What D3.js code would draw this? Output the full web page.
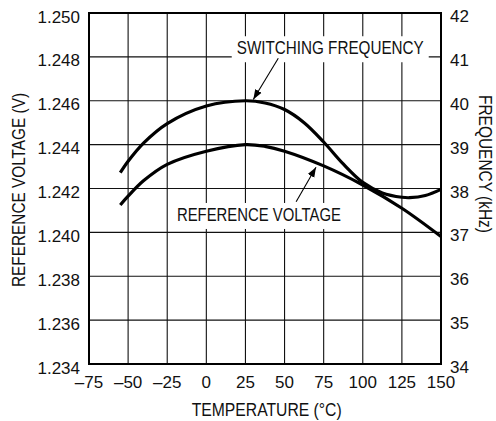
<!DOCTYPE html>
<html lang="en">
<head>
  <meta charset="UTF-8">
  <title>Reference voltage and switching frequency vs temperature</title>
  <script src="https://d3js.org/d3.v7.min.js"></script>
  <style>
    body { margin: 0; background: #fff; }
    svg { display: block; font-family: 'Liberation Sans', Arial, Helvetica, sans-serif; }
    .tick-label { font-size: 17px; fill: #111; }
    .title { font-size: 19px; fill: #111; }
  </style>
</head>
<body>
<div id="chart"></div>
<script>
  // x axis ticks (temperature, degC)
  var tempTicks = [-75, -50, -25, 0, 25, 50, 75, 100, 125, 150];
  // left axis ticks (reference voltage, V)
  var voltTicks = [1.234, 1.236, 1.238, 1.240, 1.242, 1.244, 1.246, 1.248, 1.250];
  // right axis ticks (frequency, kHz)
  var freqTicks = [34, 35, 36, 37, 38, 39, 40, 41, 42];

  // switching frequency curve
  var freqTemp = [-55, -50, -40, -25, 0, 25, 37.5, 50, 62.5, 75, 87.5, 100, 112.5, 125, 130, 140, 150];
  var freqVal  = [38.36, 38.62, 39.04, 39.48, 39.88, 40.0, 39.95, 39.80, 39.50, 39.06, 38.56, 38.14, 37.90, 37.80, 37.79, 37.84, 37.98];

  // reference voltage curve
  var voltTemp = [-55, -50, -40, -25, 0, 25, 37.5, 50, 75, 100, 125, 150];
  var voltVal  = [1.24125, 1.24165, 1.24236, 1.24310, 1.24370, 1.24400, 1.24392, 1.24370, 1.24303, 1.24216, 1.24110, 1.23981];

  var W = 496, H = 421,
    MARGIN = {top: 13, right: 55, bottom: 57, left: 89},
    PW = W - MARGIN.left - MARGIN.right,
    PH = H - MARGIN.top - MARGIN.bottom;

  var svg = d3.select('#chart').append('svg')
    .attr('width', W)
    .attr('height', H);

  var g = svg.append('g')
    .attr('transform', 'translate(' + MARGIN.left + ',' + MARGIN.top + ')');

  var x = d3.scaleLinear().domain([-75, 150]).range([0, PW]);
  var yV = d3.scaleLinear().domain([1.234, 1.250]).range([PH, 0]);
  var yF = d3.scaleLinear().domain([34, 42]).range([PH, 0]);

  // grid
  var grid = g.append('g').attr('stroke', '#111').attr('stroke-width', 1.1);
  grid.selectAll('line.v')
    .data(tempTicks.slice(1, -1))
    .enter().append('line')
    .attr('x1', function (d) { return x(d); })
    .attr('x2', function (d) { return x(d); })
    .attr('y1', 0).attr('y2', PH);
  grid.selectAll('line.h')
    .data(voltTicks.slice(1, -1))
    .enter().append('line')
    .attr('x1', 0).attr('x2', PW)
    .attr('y1', function (d) { return yV(d); })
    .attr('y2', function (d) { return yV(d); });

  // annotation labels with white boxes over the grid
  var labels = [
    {text: 'SWITCHING FREQUENCY', t: 79.2, v: yF(41.06), len: 187},
    {text: 'REFERENCE VOLTAGE', t: 33.6, v: yV(1.24052), len: 164}
  ];
  labels.forEach(function (l) {
    var lg = g.append('g');
    var txt = lg.append('text')
      .attr('class', 'title')
      .attr('x', x(l.t))
      .attr('y', l.v)
      .attr('text-anchor', 'middle')
      .attr('textLength', l.len)
      .attr('lengthAdjust', 'spacingAndGlyphs')
      .text(l.text);
    var bb = txt.node().getBBox();
    lg.insert('rect', 'text')
      .attr('x', x(l.t) - l.len / 2 - 5)
      .attr('y', bb.y - 1)
      .attr('width', l.len + 10)
      .attr('height', bb.height + 5)
      .attr('fill', '#fff');
  });

  // frame
  g.append('rect')
    .attr('width', PW).attr('height', PH)
    .attr('fill', 'none')
    .attr('stroke', '#000')
    .attr('stroke-width', 2);

  // curves
  var freqLine = d3.line()
    .x(function (d) { return x(d[0]); })
    .y(function (d) { return yF(d[1]); })
    .curve(d3.curveCatmullRom.alpha(0.5));
  var voltLine = d3.line()
    .x(function (d) { return x(d[0]); })
    .y(function (d) { return yV(d[1]); })
    .curve(d3.curveCatmullRom.alpha(0.5));

  g.append('path')
    .datum(freqTemp.map(function (t, i) { return [t, freqVal[i]]; }))
    .attr('d', freqLine)
    .attr('fill', 'none').attr('stroke', '#000').attr('stroke-width', 3.2);
  g.append('path')
    .datum(voltTemp.map(function (t, i) { return [t, voltVal[i]]; }))
    .attr('d', voltLine)
    .attr('fill', 'none').attr('stroke', '#000').attr('stroke-width', 3.2);

  // arrows
  svg.append('defs').append('marker')
    .attr('id', 'head')
    .attr('viewBox', '0 0 10 10')
    .attr('refX', 10).attr('refY', 5)
    .attr('markerWidth', 10).attr('markerHeight', 10)
    .attr('markerUnits', 'userSpaceOnUse')
    .attr('orient', 'auto')
    .append('path')
    .attr('d', 'M0,1.3 L10,5 L0,8.7 Z')
    .attr('fill', '#000');

  var arrows = [
    [[46.0, yF(40.97)], [30.0, yF(40.03)]],
    [[57.4, yV(1.2414)], [70.1, yV(1.24297)]]
  ];
  arrows.forEach(function (a) {
    g.append('line')
      .attr('x1', x(a[0][0])).attr('y1', a[0][1])
      .attr('x2', x(a[1][0])).attr('y2', a[1][1])
      .attr('stroke', '#000').attr('stroke-width', 1.1)
      .attr('marker-end', 'url(#head)');
  });

  // tick labels
  g.selectAll('text.xt')
    .data(tempTicks)
    .enter().append('text')
    .attr('class', 'tick-label')
    .attr('x', function (d) { return x(d); })
    .attr('y', PH + 24)
    .attr('text-anchor', 'middle')
    .text(function (d) { return d < 0 ? '\u2013' + Math.abs(d) : d; });

  g.selectAll('text.yl')
    .data(voltTicks)
    .enter().append('text')
    .attr('class', 'tick-label')
    .attr('x', -9)
    .attr('y', function (d) { return yV(d) + 9.5; })
    .attr('text-anchor', 'end')
    .text(function (d) { return d.toFixed(3); });

  g.selectAll('text.yr')
    .data(freqTicks)
    .enter().append('text')
    .attr('class', 'tick-label')
    .attr('x', PW + 9)
    .attr('y', function (d) { return yF(d) + 9; })
    .text(function (d) { return d; });

  // axis titles
  svg.append('text')
    .attr('class', 'title')
    .attr('transform', 'translate(25,190) rotate(-90)')
    .attr('text-anchor', 'middle')
    .attr('textLength', 194)
    .attr('lengthAdjust', 'spacingAndGlyphs')
    .text('REFERENCE VOLTAGE (V)');

  svg.append('text')
    .attr('class', 'title')
    .attr('transform', 'translate(479,164) rotate(90)')
    .attr('text-anchor', 'middle')
    .attr('textLength', 138)
    .attr('lengthAdjust', 'spacingAndGlyphs')
    .text('FREQUENCY (kHz)');

  svg.append('text')
    .attr('class', 'title')
    .attr('x', 266.7)
    .attr('y', 415.5)
    .attr('text-anchor', 'middle')
    .attr('textLength', 150)
    .attr('lengthAdjust', 'spacingAndGlyphs')
    .text('TEMPERATURE (\u00B0C)');
</script>
</body>
</html>
